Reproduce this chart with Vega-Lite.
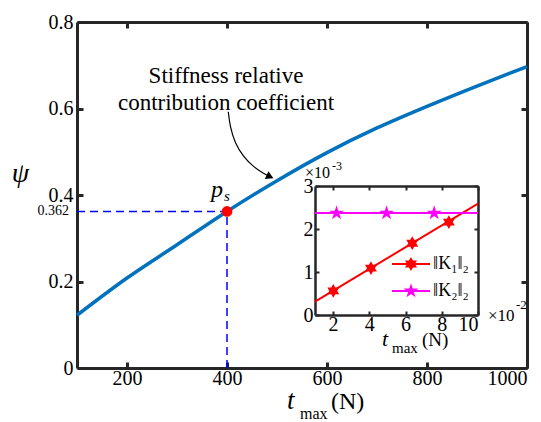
{
  "$schema": "https://vega.github.io/schema/vega-lite/v6.json",
  "padding": {"left": 11, "top": 12, "right": 5, "bottom": 0},
  "background": "white",
  "config": {
    "view": {"stroke": null},
    "font": "Liberation Serif, Times New Roman, DejaVu Serif, serif",
    "style": {"guide-label": {"font": "Liberation Serif, Times New Roman, DejaVu Serif, serif"}, "guide-title": {"font": "Liberation Serif, Times New Roman, DejaVu Serif, serif"}},
    "axis": {"labelFont": "Liberation Serif, Times New Roman, DejaVu Serif, serif", "labelColor": "#000000", "domainColor": "#262626", "tickColor": "#262626", "grid": false, "titleFont": "Liberation Serif, Times New Roman, DejaVu Serif, serif", "titleColor": "#000000"},
    "text": {"font": "Liberation Serif, Times New Roman, DejaVu Serif, serif", "color": "#000000"}
  },
  "width": 450,
  "height": 346,
  "layer": [
    {
      "data": {"values": [
        {"t": 100, "psi": 0.122}, {"t": 200, "psi": 0.208}, {"t": 300, "psi": 0.285}, {"t": 400, "psi": 0.362},
        {"t": 500, "psi": 0.433}, {"t": 600, "psi": 0.498}, {"t": 700, "psi": 0.555}, {"t": 800, "psi": 0.605},
        {"t": 900, "psi": 0.652}, {"t": 1000, "psi": 0.697}
      ]},
      "mark": {"type": "line", "color": "#0072BD", "strokeWidth": 3.5, "interpolate": "monotone"},
      "encoding": {
        "x": {"field": "t", "type": "quantitative", "scale": {"domain": [100, 1000], "nice": false, "zero": false},
          "axis": {"orient": "bottom", "values": [200, 400, 600, 800, 1000], "format": "d", "labelFont": "Liberation Serif", "labelFontSize": 20, "labelPadding": 6, "tickSize": -6, "tickWidth": 3, "domainWidth": 3, "title": null}},
        "y": {"field": "psi", "type": "quantitative", "scale": {"domain": [0, 0.8], "nice": false, "zero": false},
          "axis": {"orient": "left", "values": [0, 0.2, 0.4, 0.6, 0.8], "format": "~g", "labelFont": "Liberation Serif", "labelFontSize": 20, "labelPadding": 10, "tickSize": -6, "tickWidth": 3, "domainWidth": 3,
            "title": "ψ", "titleFont": "Liberation Serif", "titleFontSize": 28, "titleFontStyle": "italic", "titleFontWeight": "normal", "titleAngle": 0, "titleX": -57, "titleY": 151, "titleAlign": "center", "titleBaseline": "middle"}}
      }
    },
    {
      "data": {"values": [{"t1": 100, "t2": 400, "psi": 0.362}]},
      "mark": {"type": "rule", "color": "#0000FF", "strokeWidth": 1.5, "strokeDash": [8, 5]},
      "encoding": {
        "x": {"field": "t1", "type": "quantitative", "scale": {"domain": [100, 1000], "nice": false, "zero": false},
          "axis": {"orient": "top", "values": [200, 400, 600, 800, 1000], "labels": false, "tickSize": -6, "tickWidth": 3, "domainWidth": 3, "title": null}},
        "x2": {"field": "t2"},
        "y": {"field": "psi", "type": "quantitative", "scale": {"domain": [0, 0.8], "nice": false, "zero": false},
          "axis": {"orient": "right", "values": [0, 0.2, 0.4, 0.6, 0.8], "labels": false, "tickSize": -6, "tickWidth": 3, "domainWidth": 3, "title": null}}
      }
    },
    {
      "data": {"values": [{"t": 400, "psi1": 0, "psi2": 0.362}]},
      "mark": {"type": "rule", "color": "#0000FF", "strokeWidth": 1.5, "strokeDash": [8, 5]},
      "encoding": {
        "x": {"field": "t", "type": "quantitative", "scale": {"domain": [100, 1000], "nice": false, "zero": false}, "axis": null},
        "y": {"field": "psi1", "type": "quantitative", "scale": {"domain": [0, 0.8], "nice": false, "zero": false}, "axis": null},
        "y2": {"field": "psi2"}
      }
    },
    {
      "data": {"values": [{"t": 400, "psi": 0.362}]},
      "mark": {"type": "point", "filled": true, "color": "#FF0000", "size": 115, "opacity": 1},
      "encoding": {
        "x": {"field": "t", "type": "quantitative", "scale": {"domain": [100, 1000], "nice": false, "zero": false}, "axis": null},
        "y": {"field": "psi", "type": "quantitative", "scale": {"domain": [0, 0.8], "nice": false, "zero": false}, "axis": null}
      }
    },
    {
      "data": {"values": [{"t": 400, "psi": 0.362, "label": "p"}]},
      "mark": {"type": "text", "fontSize": 24, "fontStyle": "italic", "align": "center", "baseline": "alphabetic", "dx": -10, "dy": -14},
      "encoding": {
        "x": {"field": "t", "type": "quantitative", "scale": {"domain": [100, 1000], "nice": false, "zero": false}, "axis": null},
        "y": {"field": "psi", "type": "quantitative", "scale": {"domain": [0, 0.8], "nice": false, "zero": false}, "axis": null},
        "text": {"field": "label"}
      }
    },
    {
      "data": {"values": [{"t": 400, "psi": 0.362, "label": "s"}]},
      "mark": {"type": "text", "fontSize": 15, "fontStyle": "italic", "align": "left", "baseline": "alphabetic", "dx": -3, "dy": -10},
      "encoding": {
        "x": {"field": "t", "type": "quantitative", "scale": {"domain": [100, 1000], "nice": false, "zero": false}, "axis": null},
        "y": {"field": "psi", "type": "quantitative", "scale": {"domain": [0, 0.8], "nice": false, "zero": false}, "axis": null},
        "text": {"field": "label"}
      }
    },
    {
      "data": {"values": [{"t": 100, "psi": 0.362, "label": "0.362"}]},
      "mark": {"type": "text", "fontSize": 14, "align": "right", "baseline": "middle", "dx": -8},
      "encoding": {
        "x": {"field": "t", "type": "quantitative", "scale": {"domain": [100, 1000], "nice": false, "zero": false}, "axis": null},
        "y": {"field": "psi", "type": "quantitative", "scale": {"domain": [0, 0.8], "nice": false, "zero": false}, "axis": null},
        "text": {"field": "label"}
      }
    },
    {
      "data": {"values": [
        {"t": 398, "psi": 0.658, "label": "Stiffness relative"},
        {"t": 398, "psi": 0.5965, "label": "contribution coefficient"}
      ]},
      "mark": {"type": "text", "fontSize": 23, "align": "center", "baseline": "alphabetic"},
      "encoding": {
        "x": {"field": "t", "type": "quantitative", "scale": {"domain": [100, 1000], "nice": false, "zero": false}, "axis": null},
        "y": {"field": "psi", "type": "quantitative", "scale": {"domain": [0, 0.8], "nice": false, "zero": false}, "axis": null},
        "text": {"field": "label"}
      }
    },
    {
      "data": {"values": [
        {"i": 0, "t": 402.6, "psi": 0.5926}, {"i": 1, "t": 406, "psi": 0.558}, {"i": 2, "t": 416, "psi": 0.5196},
        {"i": 3, "t": 432.6, "psi": 0.4886}, {"i": 4, "t": 452.6, "psi": 0.4654}, {"i": 5, "t": 472.6, "psi": 0.4502},
        {"i": 6, "t": 484, "psi": 0.4435}
      ]},
      "mark": {"type": "line", "color": "#000000", "strokeWidth": 1.2, "interpolate": "basis"},
      "encoding": {
        "x": {"field": "t", "type": "quantitative", "scale": {"domain": [100, 1000], "nice": false, "zero": false}, "axis": null},
        "y": {"field": "psi", "type": "quantitative", "scale": {"domain": [0, 0.8], "nice": false, "zero": false}, "axis": null},
        "order": {"field": "i"}
      }
    },
    {
      "data": {"values": [{"t": 486, "psi": 0.4422}]},
      "mark": {"type": "point", "shape": "triangle-right", "filled": true, "color": "#000000", "size": 75, "angle": 25, "opacity": 1},
      "encoding": {
        "x": {"field": "t", "type": "quantitative", "scale": {"domain": [100, 1000], "nice": false, "zero": false}, "axis": null},
        "y": {"field": "psi", "type": "quantitative", "scale": {"domain": [0, 0.8], "nice": false, "zero": false}, "axis": null}
      }
    },
    {
      "data": {"values": [{"t": 520, "psi": 0, "label": "t"}]},
      "mark": {"type": "text", "fontSize": 27, "fontStyle": "italic", "align": "left", "baseline": "alphabetic", "dy": 41},
      "encoding": {
        "x": {"field": "t", "type": "quantitative", "scale": {"domain": [100, 1000], "nice": false, "zero": false}, "axis": null},
        "y": {"field": "psi", "type": "quantitative", "scale": {"domain": [0, 0.8], "nice": false, "zero": false}, "axis": null},
        "text": {"field": "label"}
      }
    },
    {
      "data": {"values": [{"t": 546, "psi": 0, "label": "max"}]},
      "mark": {"type": "text", "fontSize": 16, "align": "left", "baseline": "alphabetic", "dy": 51},
      "encoding": {
        "x": {"field": "t", "type": "quantitative", "scale": {"domain": [100, 1000], "nice": false, "zero": false}, "axis": null},
        "y": {"field": "psi", "type": "quantitative", "scale": {"domain": [0, 0.8], "nice": false, "zero": false}, "axis": null},
        "text": {"field": "label"}
      }
    },
    {
      "data": {"values": [{"t": 608, "psi": 0, "label": "(N)"}]},
      "mark": {"type": "text", "fontSize": 24, "align": "left", "baseline": "alphabetic", "dy": 41},
      "encoding": {
        "x": {"field": "t", "type": "quantitative", "scale": {"domain": [100, 1000], "nice": false, "zero": false}, "axis": null},
        "y": {"field": "psi", "type": "quantitative", "scale": {"domain": [0, 0.8], "nice": false, "zero": false}, "axis": null},
        "text": {"field": "label"}
      }
    },
    {
      "data": {"values": [{"x": 1, "y": 0.31}, {"x": 10, "y": 2.59}]},
      "mark": {"type": "line", "color": "#FF0000", "strokeWidth": 2},
      "encoding": {
        "x": {"field": "x", "type": "quantitative", "scale": {"domain": [1, 10], "range": [238, 401], "nice": false, "zero": false},
          "axis": {"orient": "bottom", "offset": -53, "values": [2, 4, 6, 8, 10], "format": "d", "labelFont": "Liberation Serif", "labelFontSize": 20, "labelPadding": 3, "tickSize": -4, "tickWidth": 2, "domainWidth": 2.5, "title": null}},
        "y": {"field": "y", "type": "quantitative", "scale": {"domain": [0, 3], "range": [293, 164], "nice": false, "zero": false},
          "axis": {"orient": "left", "offset": -238, "values": [0, 1, 2, 3], "format": "d", "labelFont": "Liberation Serif", "labelFontSize": 20, "labelPadding": 6, "tickSize": -4, "tickWidth": 2, "domainWidth": 2.5, "title": null}}
      }
    },
    {
      "data": {"values": [{"x": 1, "y": 2.37}, {"x": 10, "y": 2.37}]},
      "mark": {"type": "line", "color": "#FF00FF", "strokeWidth": 2},
      "encoding": {
        "x": {"field": "x", "type": "quantitative", "scale": {"domain": [1, 10], "range": [238, 401], "nice": false, "zero": false},
          "axis": {"orient": "top", "offset": -164, "values": [2, 4, 6, 8, 10], "labels": false, "tickSize": -4, "tickWidth": 2, "domainWidth": 2.5, "title": null}},
        "y": {"field": "y", "type": "quantitative", "scale": {"domain": [0, 3], "range": [293, 164], "nice": false, "zero": false},
          "axis": {"orient": "right", "offset": -49, "values": [0, 1, 2, 3], "labels": false, "tickSize": -4, "tickWidth": 2, "domainWidth": 2.5, "title": null}}
      }
    },
    {
      "data": {"values": [{"x": 2.01, "y": 0.56}, {"x": 4.09, "y": 1.09}, {"x": 6.37, "y": 1.67}, {"x": 8.39, "y": 2.16}, {"x": 6.3, "y": 1.186}]},
      "mark": {"type": "point", "shape": "M0,-1L0.2887,-0.5L0.866,-0.5L0.5774,0L0.866,0.5L0.2887,0.5L0,1L-0.2887,0.5L-0.866,0.5L-0.5774,0L-0.866,-0.5L-0.2887,-0.5Z", "filled": true, "color": "#FF0000", "size": 190, "opacity": 1},
      "encoding": {
        "x": {"field": "x", "type": "quantitative", "scale": {"domain": [1, 10], "range": [238, 401], "nice": false, "zero": false}, "axis": null},
        "y": {"field": "y", "type": "quantitative", "scale": {"domain": [0, 3], "range": [293, 164], "nice": false, "zero": false}, "axis": null}
      }
    },
    {
      "data": {"values": [{"x": 2.19, "y": 2.37}, {"x": 4.95, "y": 2.37}, {"x": 7.58, "y": 2.37}, {"x": 6.3, "y": 0.558}]},
      "mark": {"type": "point", "shape": "M0,-1L0.2245,-0.309L0.951,-0.309L0.3633,0.118L0.5878,0.809L0,0.382L-0.5878,0.809L-0.3633,0.118L-0.951,-0.309L-0.2245,-0.309Z", "filled": true, "color": "#FF00FF", "size": 240, "opacity": 1},
      "encoding": {
        "x": {"field": "x", "type": "quantitative", "scale": {"domain": [1, 10], "range": [238, 401], "nice": false, "zero": false}, "axis": null},
        "y": {"field": "y", "type": "quantitative", "scale": {"domain": [0, 3], "range": [293, 164], "nice": false, "zero": false}, "axis": null}
      }
    },
    {
      "data": {"values": [{"x1": 5.25, "x2": 7.35, "y": 1.186}]},
      "mark": {"type": "rule", "color": "#FF0000", "strokeWidth": 2},
      "encoding": {
        "x": {"field": "x1", "type": "quantitative", "scale": {"domain": [1, 10], "range": [238, 401], "nice": false, "zero": false}, "axis": null},
        "x2": {"field": "x2"},
        "y": {"field": "y", "type": "quantitative", "scale": {"domain": [0, 3], "range": [293, 164], "nice": false, "zero": false}, "axis": null}
      }
    },
    {
      "data": {"values": [{"x1": 5.25, "x2": 7.35, "y": 0.558}]},
      "mark": {"type": "rule", "color": "#FF00FF", "strokeWidth": 2},
      "encoding": {
        "x": {"field": "x1", "type": "quantitative", "scale": {"domain": [1, 10], "range": [238, 401], "nice": false, "zero": false}, "axis": null},
        "x2": {"field": "x2"},
        "y": {"field": "y", "type": "quantitative", "scale": {"domain": [0, 3], "range": [293, 164], "nice": false, "zero": false}, "axis": null}
      }
    },
    {
      "data": {"values": [{"x": 7.52, "y": 1.186, "label": "‖K₁‖₂"}, {"x": 7.52, "y": 0.558, "label": "‖K₂‖₂"}]},
      "mark": {"type": "text", "fontSize": 18, "align": "left", "baseline": "middle"},
      "encoding": {
        "x": {"field": "x", "type": "quantitative", "scale": {"domain": [1, 10], "range": [238, 401], "nice": false, "zero": false}, "axis": null},
        "y": {"field": "y", "type": "quantitative", "scale": {"domain": [0, 3], "range": [293, 164], "nice": false, "zero": false}, "axis": null},
        "text": {"field": "label"}
      }
    },
    {
      "data": {"values": [{"x": 1, "y": 3, "label": "×10"}]},
      "mark": {"type": "text", "fontSize": 16, "align": "left", "baseline": "middle", "dx": -10, "dy": -13},
      "encoding": {
        "x": {"field": "x", "type": "quantitative", "scale": {"domain": [1, 10], "range": [238, 401], "nice": false, "zero": false}, "axis": null},
        "y": {"field": "y", "type": "quantitative", "scale": {"domain": [0, 3], "range": [293, 164], "nice": false, "zero": false}, "axis": null},
        "text": {"field": "label"}
      }
    },
    {
      "data": {"values": [{"x": 1, "y": 3, "label": "-3"}]},
      "mark": {"type": "text", "fontSize": 12, "align": "left", "baseline": "middle", "dx": 17, "dy": -20},
      "encoding": {
        "x": {"field": "x", "type": "quantitative", "scale": {"domain": [1, 10], "range": [238, 401], "nice": false, "zero": false}, "axis": null},
        "y": {"field": "y", "type": "quantitative", "scale": {"domain": [0, 3], "range": [293, 164], "nice": false, "zero": false}, "axis": null},
        "text": {"field": "label"}
      }
    },
    {
      "data": {"values": [{"x": 10, "y": 0, "label": "×10"}]},
      "mark": {"type": "text", "fontSize": 17, "align": "left", "baseline": "middle", "dx": 10, "dy": 1},
      "encoding": {
        "x": {"field": "x", "type": "quantitative", "scale": {"domain": [1, 10], "range": [238, 401], "nice": false, "zero": false}, "axis": null},
        "y": {"field": "y", "type": "quantitative", "scale": {"domain": [0, 3], "range": [293, 164], "nice": false, "zero": false}, "axis": null},
        "text": {"field": "label"}
      }
    },
    {
      "data": {"values": [{"x": 10, "y": 0, "label": "-2"}]},
      "mark": {"type": "text", "fontSize": 13, "align": "left", "baseline": "middle", "dx": 38, "dy": -10},
      "encoding": {
        "x": {"field": "x", "type": "quantitative", "scale": {"domain": [1, 10], "range": [238, 401], "nice": false, "zero": false}, "axis": null},
        "y": {"field": "y", "type": "quantitative", "scale": {"domain": [0, 3], "range": [293, 164], "nice": false, "zero": false}, "axis": null},
        "text": {"field": "label"}
      }
    },
    {
      "data": {"values": [{"x": 4.7, "y": 0, "label": "t"}]},
      "mark": {"type": "text", "fontSize": 22, "fontStyle": "italic", "align": "left", "baseline": "alphabetic", "dy": 31},
      "encoding": {
        "x": {"field": "x", "type": "quantitative", "scale": {"domain": [1, 10], "range": [238, 401], "nice": false, "zero": false}, "axis": null},
        "y": {"field": "y", "type": "quantitative", "scale": {"domain": [0, 3], "range": [293, 164], "nice": false, "zero": false}, "axis": null},
        "text": {"field": "label"}
      }
    },
    {
      "data": {"values": [{"x": 5.25, "y": 0, "label": "max"}]},
      "mark": {"type": "text", "fontSize": 15, "align": "left", "baseline": "alphabetic", "dy": 38},
      "encoding": {
        "x": {"field": "x", "type": "quantitative", "scale": {"domain": [1, 10], "range": [238, 401], "nice": false, "zero": false}, "axis": null},
        "y": {"field": "y", "type": "quantitative", "scale": {"domain": [0, 3], "range": [293, 164], "nice": false, "zero": false}, "axis": null},
        "text": {"field": "label"}
      }
    },
    {
      "data": {"values": [{"x": 6.91, "y": 0, "label": "(N)"}]},
      "mark": {"type": "text", "fontSize": 19, "align": "left", "baseline": "alphabetic", "dy": 31},
      "encoding": {
        "x": {"field": "x", "type": "quantitative", "scale": {"domain": [1, 10], "range": [238, 401], "nice": false, "zero": false}, "axis": null},
        "y": {"field": "y", "type": "quantitative", "scale": {"domain": [0, 3], "range": [293, 164], "nice": false, "zero": false}, "axis": null},
        "text": {"field": "label"}
      }
    }
  ],
  "resolve": {"scale": {"x": "independent", "y": "independent"}, "axis": {"x": "independent", "y": "independent"}}
}
